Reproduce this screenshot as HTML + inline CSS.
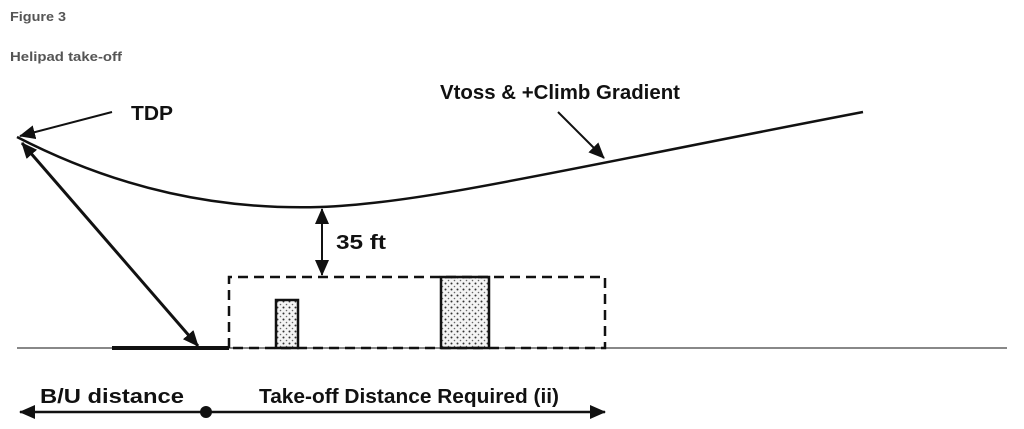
<!DOCTYPE html>
<html><head><meta charset="utf-8"><style>
body{margin:0;background:#fff;width:1024px;height:424px;overflow:hidden}
</style></head><body>
<svg width="1024" height="424" xmlns="http://www.w3.org/2000/svg">
<defs>
<marker id="b" markerWidth="16" markerHeight="14" refX="15" refY="7" orient="auto-start-reverse" markerUnits="userSpaceOnUse"><path d="M0,0 L16,7 L0,14 z" fill="#111"/></marker>
<pattern id="dots" width="6" height="6" patternUnits="userSpaceOnUse"><rect width="6" height="6" fill="#f4f4f4"/><circle cx="1.5" cy="1.5" r="1" fill="#333"/><circle cx="4.5" cy="4.5" r="0.8" fill="#666"/></pattern>
</defs>
<text x="10" y="21" font-family="Liberation Sans, sans-serif" font-weight="bold" font-size="13" fill="#555" textLength="56" lengthAdjust="spacingAndGlyphs">Figure 3</text>
<text x="10" y="61" font-family="Liberation Sans, sans-serif" font-weight="bold" font-size="13" fill="#555" textLength="112" lengthAdjust="spacingAndGlyphs">Helipad take-off</text>
<line x1="17" y1="348" x2="1007" y2="348" stroke="#888" stroke-width="2"/>
<line x1="112" y1="348" x2="229" y2="348" stroke="#111" stroke-width="4"/>
<rect x="276" y="300" width="22" height="48" fill="url(#dots)" stroke="#111" stroke-width="2.5"/>
<rect x="441" y="277" width="48" height="71" fill="url(#dots)" stroke="#111" stroke-width="2.5"/>
<path d="M229 348 L229 277 L605 277 L605 348 L229 348" fill="none" stroke="#111" stroke-width="2.5" stroke-dasharray="10,6"/>
<path d="M17 137 C120 190 220 210 320 207 C420 204 560 170 863 112" fill="none" stroke="#111" stroke-width="2.5"/>
<line x1="112" y1="112" x2="20" y2="136" stroke="#111" stroke-width="2" marker-end="url(#b)"/>
<line x1="22" y1="143" x2="198" y2="346" stroke="#111" stroke-width="3" marker-start="url(#b)" marker-end="url(#b)"/>
<line x1="322" y1="209" x2="322" y2="275" stroke="#111" stroke-width="2" marker-start="url(#b)" marker-end="url(#b)"/>
<line x1="558" y1="112" x2="604" y2="158" stroke="#111" stroke-width="2" marker-end="url(#b)"/>
<line x1="20" y1="412" x2="605" y2="412" stroke="#111" stroke-width="2.5" marker-start="url(#b)" marker-end="url(#b)"/>
<circle cx="206" cy="412" r="6" fill="#111"/>
<g font-family="Liberation Sans, sans-serif" font-weight="bold" fill="#111" font-size="20" lengthAdjust="spacingAndGlyphs">
<text x="131" y="120" textLength="42" lengthAdjust="spacingAndGlyphs">TDP</text>
<text x="440" y="99" textLength="240" lengthAdjust="spacingAndGlyphs">Vtoss &amp; +Climb Gradient</text>
<text x="336" y="249" textLength="50" lengthAdjust="spacingAndGlyphs">35 ft</text>
<text x="40" y="403" textLength="144" lengthAdjust="spacingAndGlyphs">B/U distance</text>
<text x="259" y="403" textLength="300" lengthAdjust="spacingAndGlyphs">Take-off Distance Required (ii)</text>
</g>
</svg>
</body></html>
